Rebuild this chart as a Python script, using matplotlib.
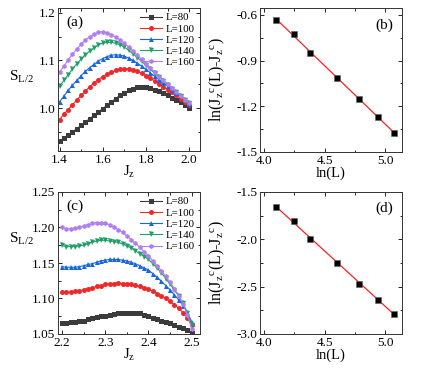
import matplotlib
matplotlib.use("Agg")
import matplotlib.pyplot as plt
import numpy as np
from matplotlib.ticker import MultipleLocator, AutoMinorLocator, FormatStrFormatter

plt.rcParams["font.family"] = ["Liberation Serif", "DejaVu Serif"]
plt.rcParams["mathtext.fontset"] = "custom"
plt.rcParams["mathtext.rm"] = "Liberation Serif"
plt.rcParams["mathtext.it"] = "Liberation Serif"
plt.rcParams["mathtext.default"] = "regular"

# --- data -------------------------------------------------------------
sizes = ["L=80", "L=100", "L=120", "L=140", "L=160"]

# (a) J_z from 1.40 to 2.00, step 0.02
jz_a = [1.40, 1.42, 1.44, 1.46, 1.48, 1.50, 1.52, 1.54, 1.56, 1.58, 1.60,
        1.62, 1.64, 1.66, 1.68, 1.70, 1.72, 1.74, 1.76, 1.78, 1.80, 1.82,
        1.84, 1.86, 1.88, 1.90, 1.92, 1.94, 1.96, 1.98, 2.00]
s_a80 = [0.930, 0.937, 0.944, 0.950, 0.957, 0.964, 0.971, 0.978, 0.985, 0.992,
         0.999, 1.006, 1.013, 1.020, 1.027, 1.032, 1.037, 1.041, 1.044, 1.045,
         1.044, 1.042, 1.039, 1.035, 1.031, 1.027, 1.022, 1.017, 1.012, 1.006, 1.000]
s_a100 = [0.976, 0.987, 0.997, 1.007, 1.017, 1.027, 1.036, 1.045, 1.053, 1.060,
          1.066, 1.071, 1.075, 1.079, 1.081, 1.082, 1.082, 1.080, 1.077, 1.073,
          1.068, 1.063, 1.057, 1.051, 1.045, 1.039, 1.033, 1.027, 1.020, 1.013, 1.006]
s_a120 = [1.013, 1.025, 1.037, 1.048, 1.058, 1.068, 1.077, 1.085, 1.092, 1.099,
          1.104, 1.108, 1.111, 1.112, 1.111, 1.109, 1.105, 1.100, 1.094, 1.088,
          1.081, 1.074, 1.067, 1.060, 1.053, 1.046, 1.039, 1.032, 1.025, 1.017, 1.008]
s_a140 = [1.046, 1.058, 1.070, 1.082, 1.093, 1.103, 1.112, 1.120, 1.127, 1.133,
          1.136, 1.138, 1.138, 1.136, 1.133, 1.128, 1.121, 1.114, 1.106, 1.098,
          1.090, 1.081, 1.073, 1.065, 1.057, 1.049, 1.041, 1.034, 1.026, 1.018, 1.010]
s_a160 = [1.075, 1.088, 1.101, 1.113, 1.124, 1.134, 1.143, 1.150, 1.155, 1.159,
          1.160, 1.158, 1.154, 1.149, 1.143, 1.136, 1.128, 1.120, 1.111, 1.102,
          1.093, 1.084, 1.075, 1.066, 1.058, 1.050, 1.042, 1.034, 1.026, 1.018, 1.010]

# (c) J_z from 2.20 to 2.50, step 0.01
jz_c = [2.20, 2.21, 2.22, 2.23, 2.24, 2.25, 2.26, 2.27, 2.28, 2.29, 2.30,
        2.31, 2.32, 2.33, 2.34, 2.35, 2.36, 2.37, 2.38, 2.39, 2.40, 2.41,
        2.42, 2.43, 2.44, 2.45, 2.46, 2.47, 2.48, 2.49, 2.50]
s_c80 = [1.066, 1.066, 1.067, 1.067, 1.068, 1.069, 1.071, 1.072, 1.074, 1.075,
         1.076, 1.077, 1.078, 1.079, 1.080, 1.080, 1.080, 1.080, 1.079, 1.077,
         1.075, 1.073, 1.071, 1.069, 1.067, 1.065, 1.063, 1.060, 1.058, 1.055, 1.052]
s_c100 = [1.109, 1.109, 1.109, 1.110, 1.111, 1.112, 1.114, 1.115, 1.117, 1.118,
          1.120, 1.121, 1.121, 1.122, 1.121, 1.121, 1.120, 1.119, 1.117, 1.115,
          1.113, 1.110, 1.107, 1.104, 1.100, 1.096, 1.091, 1.086, 1.080, 1.072, 1.062]
s_c120 = [1.145, 1.144, 1.144, 1.144, 1.145, 1.146, 1.148, 1.149, 1.151, 1.153,
          1.154, 1.155, 1.155, 1.155, 1.154, 1.153, 1.151, 1.149, 1.146, 1.143,
          1.140, 1.135, 1.130, 1.124, 1.118, 1.112, 1.105, 1.098, 1.090, 1.080, 1.067]
s_c140 = [1.175, 1.173, 1.173, 1.173, 1.174, 1.175, 1.177, 1.179, 1.181, 1.182,
          1.182, 1.181, 1.180, 1.179, 1.177, 1.174, 1.171, 1.167, 1.163, 1.159,
          1.155, 1.149, 1.143, 1.136, 1.128, 1.120, 1.112, 1.103, 1.093, 1.080, 1.063]
s_c160 = [1.200, 1.198, 1.198, 1.199, 1.200, 1.202, 1.204, 1.206, 1.207, 1.207,
          1.206, 1.204, 1.201, 1.197, 1.193, 1.188, 1.183, 1.178, 1.172, 1.166,
          1.160, 1.153, 1.146, 1.139, 1.131, 1.123, 1.114, 1.104, 1.092, 1.077, 1.057]

# (b), (d) finite-size scaling, ln(L) for L = 60 ... 160
L_fit = [60, 70, 80, 100, 120, 140, 160]
lnj_b = [-0.633, -0.726, -0.849, -1.016, -1.153, -1.272, -1.374]
lnj_d = [-1.656, -1.809, -1.994, -2.254, -2.467, -2.637, -2.787]

colors = ["#3c3c3c", "#f02828", "#1a66e0", "#1fa068", "#b07ef0"]
markers = ["s", "o", "^", "v", "h"]

fig = plt.figure(figsize=(4.24, 3.68), dpi=100)
W, H = 424, 368


def add_ax(l, t, r, b):
    return fig.add_axes([l / W, 1 - b / H, (r - l) / W, (b - t) / H])


ax_a = add_ax(58, 8, 200, 151)
ax_b = add_ax(260, 8, 402, 152)
ax_c = add_ax(58, 192, 200, 334)
ax_d = add_ax(260, 192, 402, 334)


def style(ax, xmaj, ymaj, yfmt):
    ax.xaxis.set_major_locator(MultipleLocator(xmaj))
    ax.yaxis.set_major_locator(MultipleLocator(ymaj))
    ax.xaxis.set_minor_locator(AutoMinorLocator(2))
    ax.yaxis.set_minor_locator(AutoMinorLocator(2))
    ax.xaxis.set_major_formatter(FormatStrFormatter("%.1f"))
    ax.yaxis.set_major_formatter(FormatStrFormatter(yfmt))
    ax.tick_params(which="both", direction="in", top=True, right=True,
                   labelsize=9.5, width=0.6, pad=2)
    ax.tick_params(which="major", length=3)
    ax.tick_params(which="minor", length=1.8)
    for s in ax.spines.values():
        s.set_linewidth(0.7)
        s.set_color("#333333")


def curves(ax, x, ys, ylab_pos):
    for y, lab, c, m in zip(ys, sizes, colors, markers):
        ax.plot(x, y, color=c, marker=m, ms=3.6, lw=0.8, mew=0, label=lab)
    ax.legend(loc="upper right", frameon=False, fontsize=7.8, handlelength=2.0,
              labelspacing=0.15, handletextpad=0.4, borderaxespad=0.05)
    ax.set_ylabel("S$_{L/2}$", rotation=0, fontsize=11, va="center", ha="center")
    ax.yaxis.set_label_coords(-0.26, ylab_pos)
    ax.set_xlabel("J$_z$", fontsize=10.5, labelpad=-1)


def scaling(ax, y):
    lnL = np.log(L_fit)
    k, b0 = np.polyfit(lnL, y, 1)
    ax.plot([lnL[0], lnL[-1]], [k * lnL[0] + b0, k * lnL[-1] + b0],
            color="#ff2020", lw=0.9)
    ax.plot(lnL, y, "s", color="black", ms=4.2, mec="#606060", mew=0.4)
    ax.set_xlabel("ln(L)", fontsize=10.5, labelpad=0)
    ax.set_ylabel("ln(J$_z$$^c$(L)-J$_z$$^c$)", fontsize=11.5)
    ax.yaxis.set_label_coords(-0.23, 0.5)


curves(ax_a, jz_a, [s_a80, s_a100, s_a120, s_a140, s_a160], 0.52)
style(ax_a, 0.2, 0.1, "%.1f")
ax_a.set_xlim(1.393, 2.05)
ax_a.set_ylim(0.91, 1.21)
ax_a.text(0.06, 0.95, "(a)", transform=ax_a.transAxes, fontsize=11, va="top")

scaling(ax_b, lnj_b)
style(ax_b, 0.5, 0.3, "%.1f")
ax_b.set_xlim(3.965, 5.14)
ax_b.set_ylim(-1.5, -0.555)
ax_b.text(0.94, 0.93, "(b)", transform=ax_b.transAxes, fontsize=11,
          va="top", ha="right")

curves(ax_c, jz_c, [s_c80, s_c100, s_c120, s_c140, s_c160], 0.67)
style(ax_c, 0.1, 0.05, "%.2f")
ax_c.set_xlim(2.191, 2.519)
ax_c.set_ylim(1.05, 1.25)
ax_c.text(0.06, 0.95, "(c)", transform=ax_c.transAxes, fontsize=11, va="top")

scaling(ax_d, lnj_d)
style(ax_d, 0.5, 0.5, "%.1f")
ax_d.set_xlim(3.965, 5.14)
ax_d.set_ylim(-3.0, -1.5)
ax_d.text(0.94, 0.93, "(d)", transform=ax_d.transAxes, fontsize=11,
          va="top", ha="right")

fig.savefig("out.png", dpi=100)
